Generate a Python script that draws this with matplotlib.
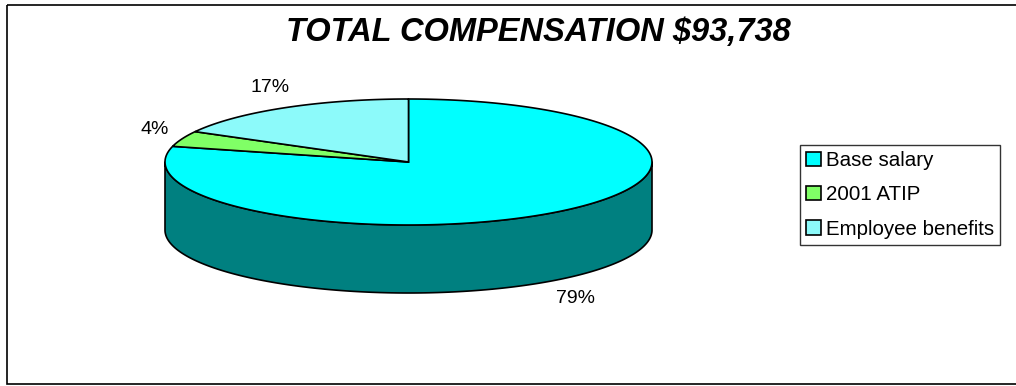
import numpy as np
import matplotlib
matplotlib.use("Agg")
import matplotlib.pyplot as plt
from matplotlib.patches import Polygon, Rectangle, Patch

plt.rcParams['font.family'] = ['Liberation Sans', 'DejaVu Sans']

# data
labels = ["Base salary", "2001 ATIP", "Employee benefits"]
shares = [79, 4, 17]
pct_labels = ["79%", "4%", "17%"]
top_colors = ["#00FFFF", "#80FF66", "#8CFAFA"]
side_colors = ["#008080", "#40804D", "#468080"]
title = "TOTAL COMPENSATION $93,738"

# geometry of the 3d pie (pixels)
cx, cy = 408.5, 162
rx, ry = 243.5, 63
depth = 68

fig = plt.figure(figsize=(10.16, 3.86), dpi=100)
ax = fig.add_axes([0, 0, 1, 1])
ax.set_xlim(0, 1016)
ax.set_ylim(386, 0)
ax.axis('off')


def ell(t, dy=0.0):
    return np.column_stack([cx + rx * np.cos(t), cy - ry * np.sin(t) + dy])


fr = np.array(shares, dtype=float) / sum(shares)
starts = np.pi / 2 - np.concatenate([[0], np.cumsum(fr)[:-1]]) * 2 * np.pi
ends = starts - fr * 2 * np.pi

# side walls (only the front half is visible)
for s, e, c in zip(starts, ends, side_colors):
    for k in range(-2, 2):
        lo = max(e, np.pi + 2 * np.pi * k)
        hi = min(s, 2 * np.pi + 2 * np.pi * k)
        if hi > lo:
            t = np.linspace(lo, hi, 200)
            pts = np.vstack([ell(t), ell(t[::-1], depth)])
            ax.add_patch(Polygon(pts, closed=True, facecolor=c,
                                 edgecolor='black', lw=1.2, joinstyle='round'))

# top faces
for s, e, c in zip(starts, ends, top_colors):
    t = np.linspace(s, e, 300)
    pts = np.vstack([[cx, cy], ell(t)])
    ax.add_patch(Polygon(pts, closed=True, facecolor=c,
                         edgecolor='black', lw=1.2, joinstyle='miter'))

# percentage labels
for s, e, lab in zip(starts, ends, pct_labels):
    m = (s + e) / 2
    x = cx + rx * 1.12 * np.cos(m)
    y = cy - ry * 1.38 * np.sin(m) + (depth if np.sin(m) < 0 else 0)
    ax.text(x, y, lab, ha='center', va='center', fontsize=14)

ax.text(538, 32, title, ha='center', va='center', fontsize=23.5,
        fontweight='bold', fontstyle='italic')

# outer frame
ax.add_patch(Rectangle((6.5, 4.5), 1030, 379.5, fill=False,
                       edgecolor='black', lw=1.2))

handles = [Patch(facecolor=c, edgecolor='black', lw=1.2) for c in top_colors]
leg = ax.legend(handles, labels, loc='upper left',
                bbox_to_anchor=(800 / 1016, 1 - 145 / 386),
                borderaxespad=0, fontsize=14.8, handlelength=0.7,
                handleheight=0.7, handletextpad=0.25, labelspacing=0.74,
                borderpad=0.3, fancybox=False, frameon=True)
leg.get_frame().set_edgecolor('black')
leg.get_frame().set_linewidth(1.0)

fig.savefig("out.png", dpi=100)
